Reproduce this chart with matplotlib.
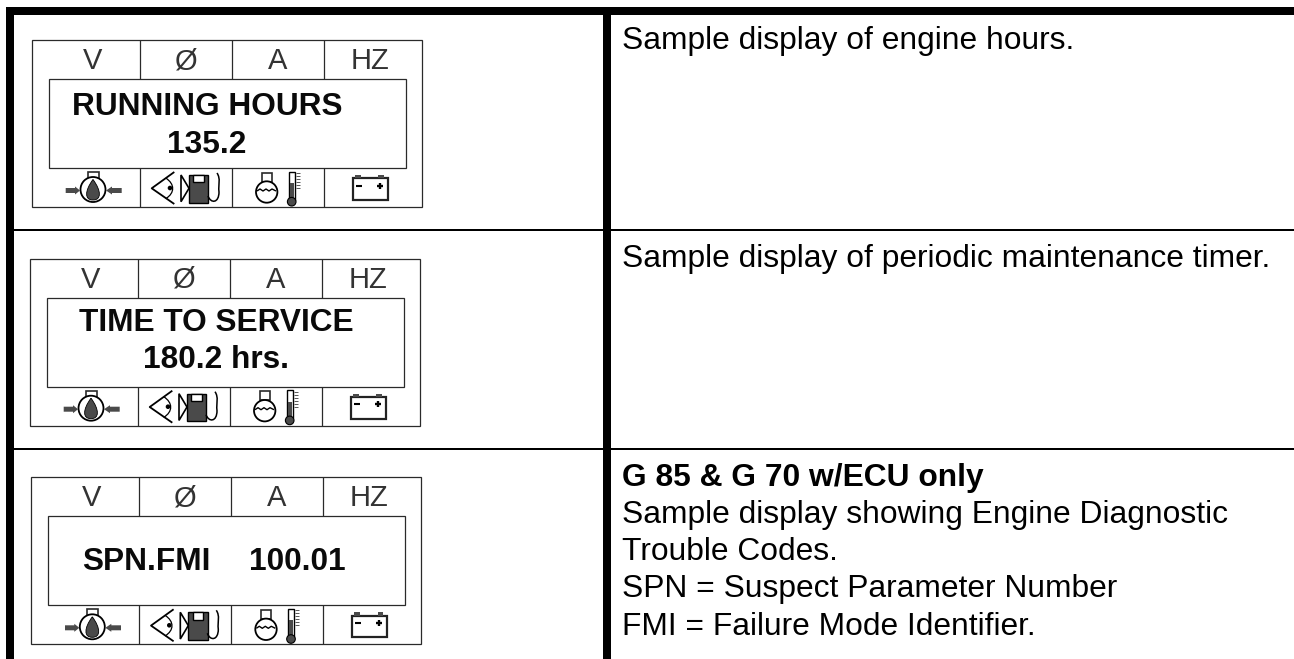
import numpy as np
import matplotlib
matplotlib.use('Agg')
import matplotlib.pyplot as plt
from matplotlib.patches import Rectangle, Circle, Polygon, PathPatch
from matplotlib.path import Path

# Text content
header_labels = ['V', 'Ø', 'A', 'HZ']
display_lines = [['RUNNING HOURS', '135.2'],
                 ['TIME TO SERVICE', '180.2 hrs.'],
                 ['SPN.FMI', '100.01']]
notes_regular = [['Sample display of engine hours.'],
                 ['Sample display of periodic maintenance timer.'],
                 ['Sample display showing Engine Diagnostic', 'Trouble Codes.',
                  'SPN = Suspect Parameter Number', 'FMI = Failure Mode Identifier.']]
note_bold = 'G 85 & G 70 w/ECU only'

# Layout, all in image pixels
panel_x = [32, 30, 31.3]
panel_y = [40, 258.7, 477.3]
row_lines = [230, 449]
SANS = ['Liberation Sans', 'DejaVu Sans']
DARK = '#4a4a4a'
LINE = '#2a2a2a'

fig = plt.figure(figsize=(12.94, 6.59), dpi=100)
ax = fig.add_axes([0, 0, 1, 1])
ax.set_xlim(0, 1294)
ax.set_ylim(659, 0)
ax.axis('off')


def box(x, y, w, h, fc='none', ec=LINE, lw=0.9):
    ax.add_patch(Rectangle((x, y), w, h, fc=fc, ec=ec, lw=lw))


def line(xs, ys, lw=0.9, c=LINE):
    ax.plot(xs, ys, color=c, lw=lw, solid_capstyle='butt')


def oil_icon(x, y):
    box(x + 56, y + 132, 11, 9, fc='white', lw=1.2)
    ax.add_patch(Circle((x + 61, y + 149.5), 12.5, fc='white', ec='black', lw=1.3))
    drop = Path([(x + 61, y + 139.5), (x + 69.5, y + 151), (x + 69.5, y + 160), (x + 61, y + 160),
                 (x + 52.5, y + 160), (x + 52.5, y + 151), (x + 61, y + 139.5)],
                [Path.MOVETO] + [Path.CURVE4] * 6)
    ax.add_patch(PathPatch(drop, fc=DARK, ec='black', lw=0.6))
    ax.add_patch(Polygon([(x + 33.7, y + 148), (x + 43, y + 148), (x + 43, y + 146.5), (x + 48, y + 150.5),
                          (x + 43, y + 154.5), (x + 43, y + 153), (x + 33.7, y + 153)], fc=DARK, ec='none'))
    ax.add_patch(Polygon([(x + 89.7, y + 148), (x + 80, y + 148), (x + 80, y + 146.5), (x + 74, y + 150.5),
                          (x + 80, y + 154.5), (x + 80, y + 153), (x + 89.7, y + 153)], fc=DARK, ec='none'))


def fuel_icon(x, y):
    line([x + 142.3, x + 119.7, x + 142.3], [y + 132, y + 148.3, y + 164], lw=1.3, c='black')
    eye = Path([(x + 133.7, y + 138), (x + 143, y + 144), (x + 143, y + 153), (x + 133.7, y + 158.7)],
               [Path.MOVETO, Path.CURVE4, Path.CURVE4, Path.CURVE4])
    ax.add_patch(PathPatch(eye, fc='none', ec='black', lw=0.9))
    ax.add_patch(Circle((x + 138, y + 148), 2.3, fc='black', ec='none'))
    ax.add_patch(Polygon([(x + 149, y + 135), (x + 157, y + 148.3), (x + 149, y + 161.7)],
                         fc='white', ec='black', lw=1.2))
    box(x + 157, y + 135, 19.3, 27.7, fc=DARK, ec='black', lw=1.0)
    box(x + 161.3, y + 135, 10.7, 7.3, fc='white', ec='black', lw=1.0)
    hose = Path([(x + 176, y + 156), (x + 179, y + 164), (x + 187, y + 163), (x + 187, y + 152),
                 (x + 186, y + 144), (x + 189, y + 139), (x + 185, y + 133)],
                [Path.MOVETO] + [Path.CURVE4] * 6)
    ax.add_patch(PathPatch(hose, fc='none', ec='black', lw=1.1))


def temp_icon(x, y):
    box(x + 229.7, y + 132.5, 10, 9, fc='white', lw=1.2)
    ax.add_patch(Circle((x + 234.7, y + 152), 10.7, fc='white', ec='black', lw=1.3))
    wx = x + np.array([225, 228, 231, 234, 237, 240, 244])
    wy = y + np.array([151, 149, 151, 149, 151, 149, 151])
    line(wx, wy, lw=1.0, c='black')
    box(x + 256.5, y + 131.7, 6.5, 28, fc='white', ec='black', lw=1.0)
    ax.add_patch(Rectangle((x + 257.5, y + 143), 4.5, 17, fc=DARK, ec='none'))
    ax.add_patch(Circle((x + 259.7, y + 161.7), 4.3, fc=DARK, ec='black', lw=0.8))
    for k in range(6):
        line([x + 264, x + 267.5], [y + 133 + k * 3] * 2, lw=0.7, c='#555555')


def battery_icon(x, y):
    box(x + 320.7, y + 138.3, 35, 21.7, fc='white', ec='#222222', lw=1.6)
    box(x + 323, y + 135, 5.7, 3.3, fc=DARK, ec='none')
    box(x + 346.3, y + 135, 5.7, 3.3, fc=DARK, ec='none')
    line([x + 324, x + 330], [y + 145.5, y + 145.5], lw=1.5, c='black')
    line([x + 345, x + 351], [y + 145.5, y + 145.5], lw=1.7, c='black')
    line([x + 348, x + 348], [y + 142.5, y + 148.5], lw=1.7, c='black')


# Table rules
ax.add_patch(Rectangle((6, 7), 1288, 7.5, fc='black', ec='none'))
ax.add_patch(Rectangle((6, 7), 8, 652, fc='black', ec='none'))
ax.add_patch(Rectangle((603, 7), 7.5, 652, fc='black', ec='none'))
for yl in row_lines:
    ax.add_patch(Rectangle((6, yl - 1), 1288, 2, fc='black', ec='none'))

# Display panels
title_cx = [175, 186]
value_cx = [175, 186]
title_base = [75, 72]
value_base = [112.7, 109.6]
for i in range(3):
    x, y = panel_x[i], panel_y[i]
    box(x, y, 390, 167)
    for dx in [107.5, 199.5, 291.7]:
        line([x + dx, x + dx], [y, y + 39])
        line([x + dx, x + dx], [y + 128, y + 167])
    box(x + 16.7, y + 39, 357.3, 89)
    for lab, cx in zip(header_labels, [60.7, 154, 245.5, 338]):
        ax.text(x + cx, y + 29, lab, family=SANS, fontsize=21, ha='center', va='baseline', color='#333333')
    if i < 2:
        ax.text(x + title_cx[i], y + title_base[i], display_lines[i][0], family=SANS, weight='bold',
                fontsize=22.8, ha='center', va='baseline', color='#0a0a0a')
        ax.text(x + value_cx[i], y + value_base[i], display_lines[i][1], family=SANS, weight='bold',
                fontsize=22.8, ha='center', va='baseline', color='#0a0a0a')
    else:
        ax.text(x + 50.7, y + 92.7, display_lines[i][0], family=SANS, weight='bold', fontsize=22.8,
                va='baseline', color='#0a0a0a')
        ax.text(x + 217.7, y + 92.7, display_lines[i][1], family=SANS, weight='bold', fontsize=22.8,
                va='baseline', color='#0a0a0a')
    oil_icon(x, y)
    fuel_icon(x, y)
    temp_icon(x, y)
    battery_icon(x, y)

# Right column notes
note_x = 622.5
ax.text(note_x, 49, notes_regular[0][0], family=SANS, fontsize=22.9, va='baseline', color='black')
ax.text(note_x, 267, notes_regular[1][0], family=SANS, fontsize=22.9, va='baseline', color='black')
ax.text(note_x, 486, note_bold, family=SANS, weight='bold', fontsize=22.9, va='baseline', color='black')
for k, s in enumerate(notes_regular[2]):
    ax.text(note_x, 522.7 + k * 37.4, s, family=SANS, fontsize=22.9, va='baseline', color='black')

plt.savefig('out.png', dpi=100)
plt.close()
